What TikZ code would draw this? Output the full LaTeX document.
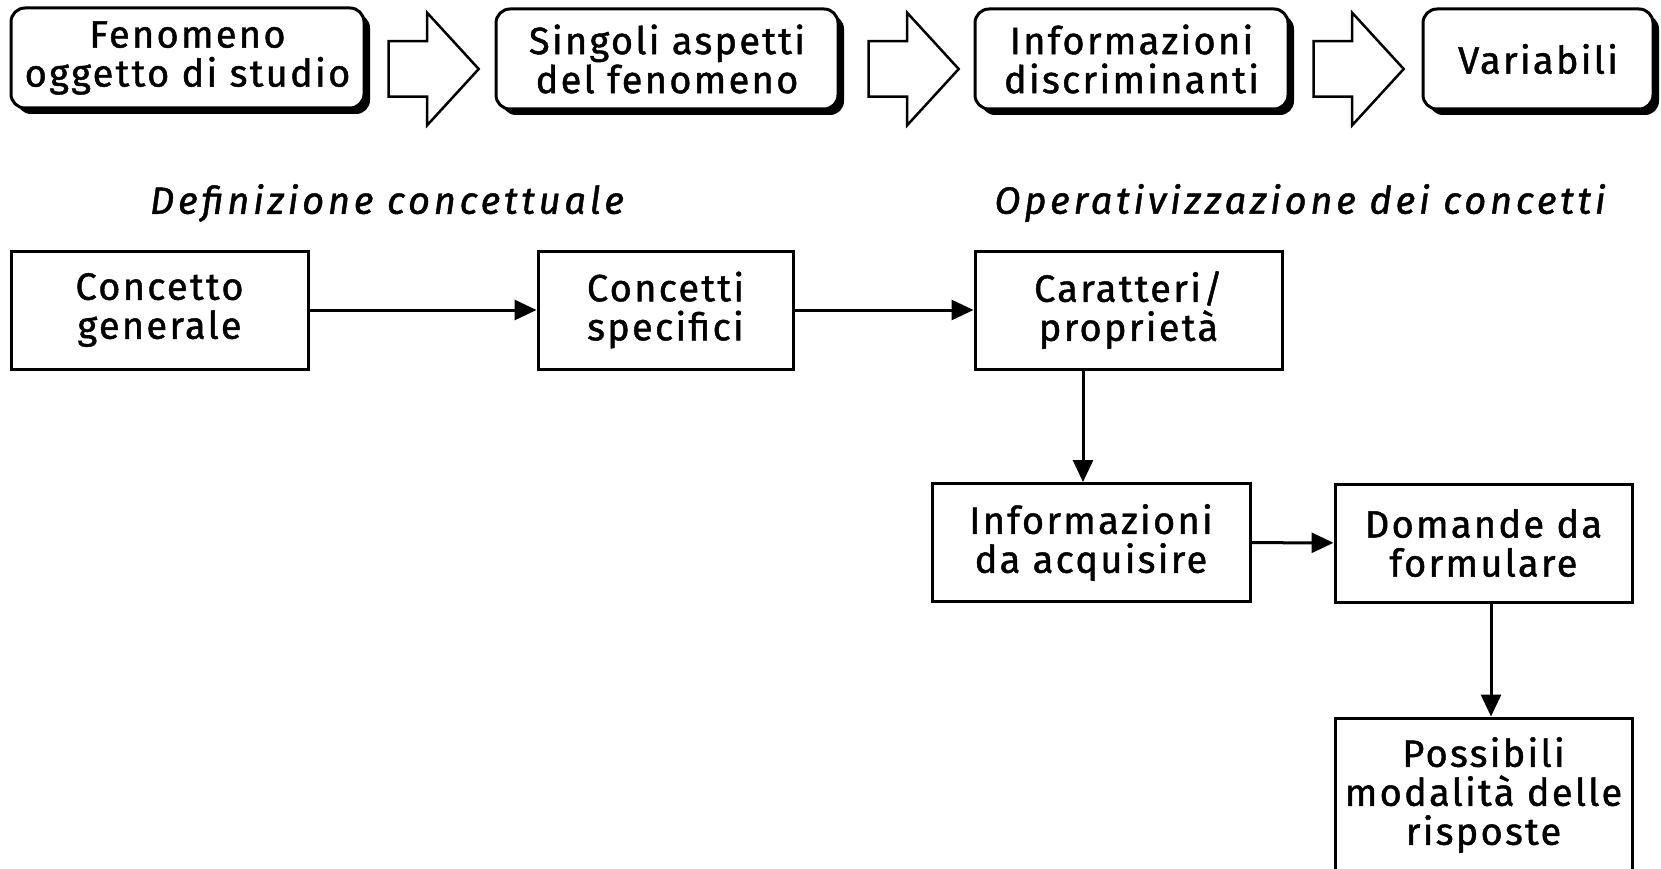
\documentclass[tikz,border=0pt]{standalone}
\usepackage{fontspec}
\setmainfont{Fira Sans}[LetterSpace=6, FakeBold=1.2]
\usetikzlibrary{arrows.meta,shapes.arrows,shadows}

\tikzset{
  boxfont/.style={font=\fontsize{38}{39}\selectfont},
  topbox/.style={boxfont, draw, line width=3pt, rounded corners=14pt, fill=white,
    minimum height=100pt, align=center, inner sep=0pt,
    drop shadow={shadow xshift=6pt, shadow yshift=-6pt, opacity=1, fill=black}},
  plainbox/.style={boxfont, draw, line width=3pt, minimum height=118pt,
    align=center, inner sep=0pt},
  blockarrow/.style={draw, line width=2.5pt, fill=white, single arrow, inner xsep=0pt,
    inner ysep=26.5pt, minimum height=90pt, single arrow head extend=28.5pt,
    single arrow tip angle=95},
  phase/.style={boxfont, inner sep=0pt},
  link/.style={->, line width=3pt}
}

\begin{document}
\begin{tikzpicture}[x=1pt,y=-1pt,>={Triangle[length=22pt,width=20pt]}]
    \clip (0,0) rectangle (1661,869);
%   top row
    \node[topbox, minimum width=353pt] (fenomeno)  at (187.5,58) {Fenomeno\\oggetto di studio};
    \node[topbox, minimum width=342pt] (aspetti)   at (667,59)   {Singoli aspetti\\del fenomeno};
    \node[topbox, minimum width=313pt] (discrim)   at (1131.5,59){Informazioni\\discriminanti};
    \node[topbox, minimum width=230pt] (variabili) at (1538,59)  {Variabili};

    \node[blockarrow] (freccia1) at (421,69)  {};
    \node[blockarrow] (freccia2) at (901,69)  {};
    \node[blockarrow] (freccia3) at (1346,69) {};

%   headings
    \node[phase] (defconc) at (387,203)  {\itshape\addfontfeatures{LetterSpace=10}Definizione concettuale};
    \node[phase] (opconc)  at (1300,203) {\itshape\addfontfeatures{LetterSpace=10}Operativizzazione dei concetti};

%   lower flow
    \node[plainbox, minimum width=297pt] (generale)  at (159.5,310)  {Concetto\\generale};
    \node[plainbox, minimum width=255pt] (specifici) at (665.5,310)  {Concetti\\specifici};
    \node[plainbox, minimum width=307pt] (caratteri) at (1128.5,310) {Caratteri/\\proprietà};
    \node[plainbox, minimum width=318pt] (infoacq)   at (1091,542.5) {Informazioni\\da acquisire};
    \node[plainbox, minimum width=297pt] (domande)   at (1483.5,543) {Domande da\\formulare};
    \node[plainbox, minimum width=297pt, minimum height=154pt] (modalita) at (1483.5,795)
         {Possibili\\modalità delle\\risposte};

    \coordinate (colonna1) at (1083,0);
    \coordinate (colonna2) at (1491,0);

    \draw[link] (generale)  to (specifici);
    \draw[link] (specifici) to (caratteri);
    \draw[link] (caratteri.south -| colonna1) to (infoacq.north -| colonna1);
    \draw[link] (infoacq)   to (domande);
    \draw[link] (domande.south -| colonna2) to (modalita.north -| colonna2);
\end{tikzpicture}
\end{document}
